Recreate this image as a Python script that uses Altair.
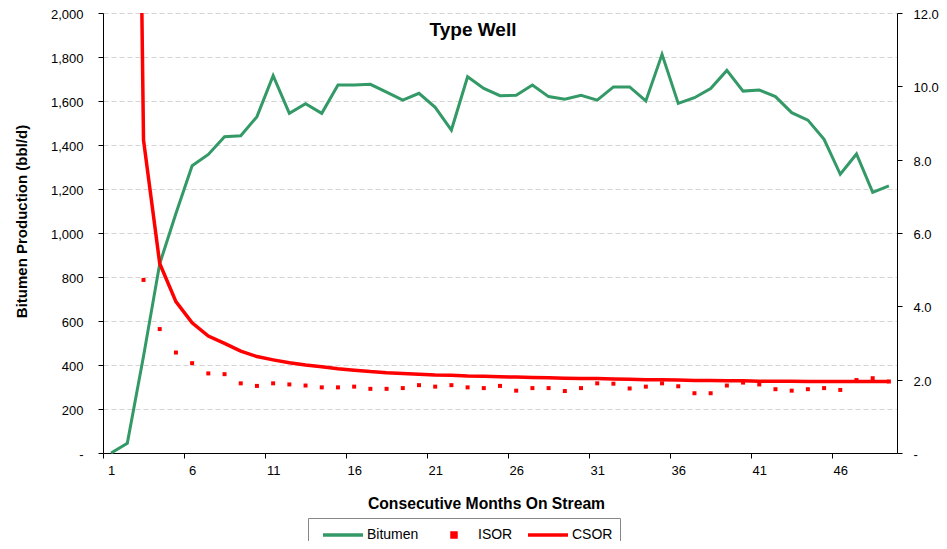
import altair as alt
import pandas as pd

months = list(range(1, 50))

bitumen = [0, 44, 440, 860, 1089, 1306, 1357, 1438, 1442, 1529,
           1715, 1544, 1588, 1544, 1673, 1673, 1676, 1640, 1604, 1635,
           1571, 1468, 1710, 1657, 1624, 1626, 1673, 1620, 1608, 1626,
           1604, 1664, 1664, 1600, 1812, 1589, 1615, 1657, 1739, 1645,
           1650, 1620, 1547, 1513, 1426, 1267, 1359, 1185, 1214]

isor = [None, None, 4.72, 3.38, 2.74, 2.45, 2.17, 2.15, 1.90, 1.83,
        1.90, 1.87, 1.84, 1.79, 1.79, 1.81, 1.75, 1.75, 1.77, 1.85,
        1.81, 1.85, 1.79, 1.77, 1.83, 1.70, 1.77, 1.77, 1.69, 1.77,
        1.90, 1.89, 1.76, 1.81, 1.90, 1.82, 1.63, 1.63, 1.84, 1.92,
        1.87, 1.74, 1.70, 1.74, 1.77, 1.72, 1.99, 2.04, 1.95]

csor = [None, 43.0, 8.54, 5.17, 4.13, 3.55, 3.19, 2.99, 2.78, 2.63,
        2.54, 2.46, 2.40, 2.35, 2.30, 2.26, 2.22, 2.19, 2.17, 2.15,
        2.13, 2.12, 2.10, 2.09, 2.08, 2.07, 2.06, 2.05, 2.04, 2.03,
        2.03, 2.02, 2.01, 2.00, 2.00, 1.99, 1.98, 1.98, 1.97, 1.97,
        1.96, 1.96, 1.96, 1.95, 1.95, 1.95, 1.95, 1.95, 1.95]

series_names = ["Bitumen", "ISOR", "CSOR"]
series_colors = ["#339966", "#FF0000", "#FF0000"]
series_shapes = ["stroke", "M-0.1,-0.1H0.1V0.1H-0.1Z", "stroke"]

chart_title = ["Type Well"]

left_ticks = list(range(0, 2001, 200))
right_ticks = [0, 2, 4, 6, 8, 10, 12]
x_label_values = list(range(1, 50, 5))

bit_df = pd.DataFrame({"month": months, "value": bitumen})
isor_df = pd.DataFrame({"month": months, "value": isor}).dropna()
isor_df["series"] = "ISOR"
csor_df = pd.DataFrame({"month": months, "value": csor}).dropna()
title_df = pd.DataFrame({"t": chart_title})

FONT = "Liberation Sans"
W, H = 794, 440
cat = W / 49.0

x_enc = alt.X(
    "month:Q",
    scale=alt.Scale(domain=[0.5, 49.5], nice=False, zero=False),
    axis=alt.Axis(
        values=x_label_values, tickOffset=-cat / 2, labelOffset=cat / 2,
        title="Consecutive Months On Stream", grid=False, labelPadding=6,
        titleX=383, titleY=55, titleBaseline="alphabetic", titleFontSize=15.7,
        titleAlign="center",
    ),
)

bit = alt.Chart(bit_df).mark_line(color="#339966", strokeWidth=3).encode(
    x=x_enc,
    y=alt.Y(
        "value:Q",
        scale=alt.Scale(domain=[0, 2000], nice=False),
        axis=alt.Axis(
            orient="left", values=left_ticks,
            labelExpr="datum.value == 0 ? '-\u2002' : format(datum.value, ',')",
            title="Bitumen Production (bbl/d)", grid=True, gridDash=[5, 3],
            gridColor="#d4d4d4", labelPadding=15, labelOffset=1.5,
            titleX=-82, titleY=208, titleBaseline="middle", titleAngle=270,
        ),
    ),
)

right_axis = alt.Axis(
    orient="right", values=right_ticks,
    labelExpr="datum.value == 0 ? '-' : format(datum.value, '.1f')",
    title=None, grid=False, labelPadding=11, labelOffset=1.5,
)
y_right = alt.Y("value:Q", scale=alt.Scale(domain=[0, 12], nice=False), axis=right_axis)

legend = alt.Legend(
    title=None, orient="none", legendX=205, legendY=505, direction="horizontal",
    symbolSize=1600, symbolStrokeWidth=3.5, labelFont=FONT, labelFontSize=14,
    labelColor="black", labelOffset=2, columnPadding=7, padding=7,
    strokeColor="#888888", fillColor="white", clipHeight=20, symbolOffset=6,
)

isor_layer = alt.Chart(isor_df).mark_point(filled=True, size=1600, opacity=1).encode(
    x=x_enc,
    y=y_right,
    fill=alt.Fill("series:N", scale=alt.Scale(domain=series_names, range=series_colors), legend=legend),
    stroke=alt.Stroke("series:N", scale=alt.Scale(domain=series_names, range=series_colors), legend=legend),
    shape=alt.Shape("series:N", scale=alt.Scale(domain=series_names, range=series_shapes), legend=legend),
    strokeWidth=alt.value(0),
)

csor_layer = alt.Chart(csor_df).mark_line(color="#FF0000", strokeWidth=3.5, clip=True).encode(
    x=x_enc,
    y=y_right,
)

right = alt.layer(isor_layer, csor_layer)

title_layer = alt.Chart(title_df).mark_text(
    font=FONT, fontSize=19, fontWeight="bold", color="black",
    align="center", baseline="alphabetic",
).encode(
    text="t:N",
    x=alt.value(370),
    y=alt.value(23),
)

chart = alt.layer(bit, right, title_layer).resolve_scale(y="independent").properties(
    width=W, height=H,
    autosize=alt.AutoSizeParams(type="none"),
    padding={"left": 95, "top": 5, "right": 42, "bottom": 88},
).configure_axis(
    domainColor="black", tickColor="black", labelColor="black", titleColor="black",
    labelFont=FONT, titleFont=FONT, labelFontSize=13, titleFontSize=15,
    titleFontWeight="bold", tickSize=5, domainWidth=1, tickWidth=1,
).configure_view(stroke=None)

chart.save("out.html", embed_options={"renderer": "svg", "actions": False})
